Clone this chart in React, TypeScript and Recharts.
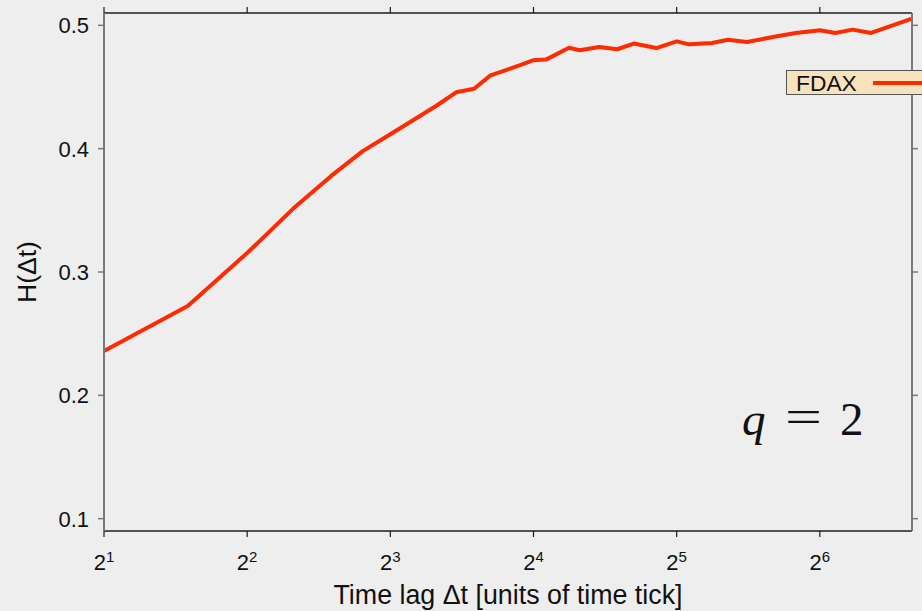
import { LineChart, Line, XAxis, YAxis } from 'recharts';

// generalized Hurst exponent H(Δt) for q = 2, FDAX tick data
const lags = [2, 3, 4, 5, 6, 7, 8, 9, 10, 11, 12, 13, 14, 15, 16, 17, 19, 20, 22, 24, 26, 29, 32, 34, 38, 41, 45, 52, 57, 64, 69, 75, 82, 100];
const hurst = [
  0.236, 0.2725, 0.3154, 0.3514, 0.3777, 0.398, 0.4117, 0.4239, 0.4348, 0.4457, 0.4486, 0.4595,
  0.4637, 0.4677, 0.4717, 0.4722, 0.4818, 0.4798, 0.4824, 0.4806, 0.4852, 0.4816, 0.487, 0.4846,
  0.4857, 0.4883, 0.4865, 0.4911, 0.4938, 0.496, 0.4938, 0.4965, 0.4938, 0.5054,
];
const xTicks = [2, 4, 8, 16, 32, 64];
const yTicks = [0.1, 0.2, 0.3, 0.4, 0.5];
const seriesName = 'FDAX';

const data = lags.map((lag, i) => ({ lag, h: hurst[i] }));

const FONT = '"Liberation Sans", Arial, Helvetica, sans-serif';
const SERIF = '"Liberation Serif", "Times New Roman", serif';
const RED = '#ff2a00';
const GRAY = '#7a7a7a';
const DARK = '#1c1c1c';

function PowTick({ x, y, payload }: any) {
  const e = Math.round(Math.log2(payload.value));
  return (
    <text x={x} y={y + 31} textAnchor="middle" fontFamily={FONT} fontSize={22} fill="#111">
      <tspan>2</tspan>
      <tspan dy={-8} fontSize={15}>{e}</tspan>
    </text>
  );
}

function ValueTick({ x, y, payload }: any) {
  return (
    <text x={x - 7} y={y + 8} textAnchor="end" fontFamily={FONT} fontSize={22} fill="#111">
      {payload.value.toFixed(1)}
    </text>
  );
}

const NoTick = () => <g />;

export default function App() {
  return (
    <div style={{ position: 'fixed', left: 0, top: 0, width: 922, height: 611, background: '#eeeeee', overflow: 'hidden' }}>
      <LineChart width={922} height={611} data={data} margin={{ top: 0, right: 0, bottom: 0, left: 0 }}>
        <XAxis
          dataKey="lag"
          type="number"
          scale="log"
          domain={[2, 100]}
          ticks={xTicks}
          allowDataOverflow
          height={80}
          axisLine={{ stroke: DARK, strokeWidth: 1.5 }}
          tickLine={{ stroke: DARK, strokeWidth: 1.2 }}
          tick={<PowTick />}
          label={{
            content: ({ viewBox }: any) => (
              <text x={viewBox.x + viewBox.width / 2} y={604} textAnchor="middle" fontFamily={FONT} fontSize={26.8} fill="#111">
                Time lag Δt [units of time tick]
              </text>
            ),
          }}
        />
        <XAxis
          xAxisId="top"
          dataKey="lag"
          type="number"
          scale="log"
          orientation="top"
          domain={[2, 100]}
          ticks={xTicks}
          allowDataOverflow
          height={13}
          axisLine={{ stroke: DARK, strokeWidth: 1.5 }}
          tickLine={{ stroke: DARK, strokeWidth: 1.2 }}
          tick={<NoTick />}
        />
        <YAxis
          type="number"
          domain={[0.09, 0.51]}
          ticks={yTicks}
          allowDataOverflow
          width={104}
          axisLine={{ stroke: GRAY, strokeWidth: 2 }}
          tickLine={{ stroke: GRAY, strokeWidth: 1.5 }}
          tick={<ValueTick />}
          label={{
            content: ({ viewBox }: any) => {
              const cy = viewBox.y + viewBox.height / 2;
              return (
                <text x={36} y={cy} transform={`rotate(-90 36 ${cy})`} textAnchor="middle" fontFamily={FONT} fontSize={26.5} fill="#111">
                  H(Δt)
                </text>
              );
            },
          }}
        />
        <YAxis
          yAxisId="right"
          orientation="right"
          type="number"
          domain={[0.09, 0.51]}
          ticks={yTicks}
          allowDataOverflow
          width={10}
          axisLine={{ stroke: GRAY, strokeWidth: 2 }}
          tickLine={{ stroke: GRAY, strokeWidth: 1.5 }}
          tick={<NoTick />}
        />
        <Line
          type="linear"
          dataKey="h"
          name={seriesName}
          stroke={RED}
          strokeWidth={4}
          strokeLinejoin="round"
          dot={false}
          isAnimationActive={false}
        />
      </LineChart>

      {/* legend box, clipped by the right edge */}
      <div
        style={{
          position: 'absolute',
          left: 786,
          top: 70,
          width: 150,
          height: 25,
          background: '#f6e3be',
          border: '1px solid #555',
          boxSizing: 'border-box',
          display: 'flex',
          alignItems: 'center',
        }}
      >
        <span style={{ fontFamily: FONT, fontSize: 22.8, color: '#111', marginLeft: 9, lineHeight: '22px' }}>{seriesName}</span>
        <svg width={60} height={10} style={{ marginLeft: 16 }}>
          <line x1={0} y1={5} x2={60} y2={5} stroke={RED} strokeWidth={4} />
        </svg>
      </div>

      {/* moment order annotation */}
      <svg width={922} height={611} style={{ position: 'absolute', left: 0, top: 0, pointerEvents: 'none' }}>
        <text x={742} y={435} fontFamily={SERIF} fontSize={47} fill="#111" fontStyle="italic">q</text>
        <text x={785} y={432} fontFamily={SERIF} fontSize={47} fill="#111" textLength={37} lengthAdjust="spacingAndGlyphs">=</text>
        <text x={840} y={435} fontFamily={SERIF} fontSize={47} fill="#111">2</text>
      </svg>
    </div>
  );
}
